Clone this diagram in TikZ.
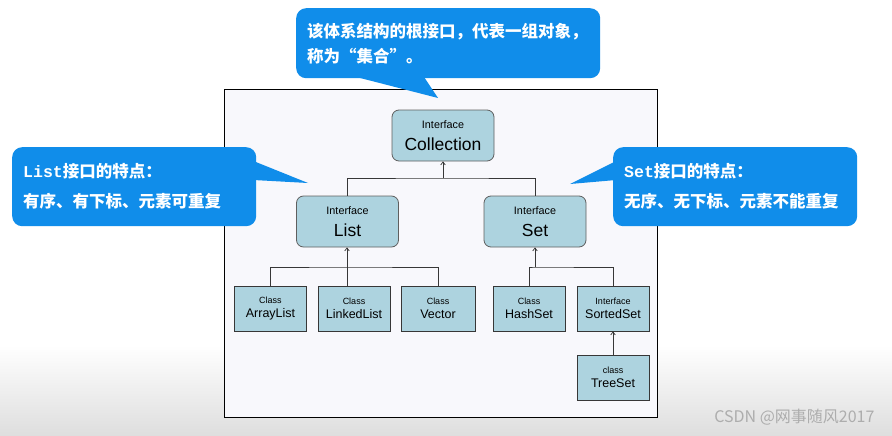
\documentclass[tikz,border=0pt]{standalone}
\usepackage{fontspec}
\setmainfont{Liberation Sans}
\newfontfamily\cjkfont{Noto Sans CJK SC}
\newfontfamily\monofont{Liberation Mono}
\usetikzlibrary{arrows.meta, positioning}

\definecolor{boxblue}{RGB}{173,211,223}
\definecolor{tipblue}{RGB}{16,141,234}
\definecolor{lineg}{RGB}{55,55,55}
\definecolor{paper}{RGB}{248,248,252}

\newcommand{\ifacetext}[2]{{\fontsize{10.8}{12}\selectfont #1}\\[3pt]{\fontsize{17.5}{19}\selectfont #2}}
\newcommand{\clstext}[2]{{\fontsize{9}{11}\selectfont #1}\\[1pt]{\fontsize{12.5}{14}\selectfont #2}}

\tikzset{
  iface/.style={draw=lineg!80, fill=boxblue, rounded corners=7pt, minimum width=102pt, minimum height=51pt, align=center, line width=0.8pt,
    font=\fontsize{10.8}{19}\selectfont},
  cls/.style={draw=lineg, fill=boxblue, minimum width=72pt, minimum height=45pt, align=center, line width=0.8pt,
    font=\fontsize{9}{13.5}\selectfont},
  link/.style={draw=lineg, line width=0.7pt},
  arr/.style={link, -{Straight Barb[length=3pt,width=4.5pt]}},
  bubble/.style={fill=tipblue, rounded corners=10pt, text=white, align=left, inner xsep=11pt,
    font=\cjkfont\bfseries\fontsize{16.5}{25}\selectfont},
}

\begin{document}
\begin{tikzpicture}[x=1pt, y=-1pt]
        \useasboundingbox (0,0) rectangle (892,436);
        % screen background
        \fill[white] (0,0) rectangle (892,436);
        \shade[top color=white, bottom color=black!13] (0,345) rectangle (892,436);
        \draw[line width=1pt, fill=paper] (224.5,90) rectangle (657,417);

        % interfaces
        \node[iface] (coll) at (443,135.5) {\ifacetext{Interface}{Collection}};
        \node[iface] (list) at (347.5,221.5) {\ifacetext{Interface}{List}};
        \node[iface] (set) at (535,221.5) {\ifacetext{Interface}{Set}};

        % classes
        \node[cls] (arraylist) at (270.5,308.5) {\clstext{Class}{ArrayList}};
        \node[cls] (linkedlist) at (354,308.5) {\clstext{Class}{LinkedList}};
        \node[cls, minimum width=74pt] (vector) at (438,308.5) {\clstext{Class}{Vector}};
        \node[cls] (hashset) at (529,308.5) {\clstext{Class}{HashSet}};
        \node[cls] (sortedset) at (613,308.5) {\clstext{Interface}{SortedSet}};
        \node[cls] (treeset) at (613,377.5) {\clstext{class}{TreeSet}};

        % connectors
        \coordinate (jtop) at (443,178);
        \coordinate (jlist) at (347,267);
        \coordinate (jset) at (535,267);
        \draw[link] (list.north -| jlist) |- (jtop) -| (set.north);
        \draw[arr] (jtop) -- (coll.south);
        \draw[link] (arraylist.north) |- (jlist) -| (vector.north);
        \draw[arr] (jlist |- linkedlist.north) -- (jlist |- list.south);
        \draw[link] (hashset.north) |- (jset) -| (sortedset.north);
        \draw[arr] (jset) -- (set.south);
        \draw[arr] (treeset.north) -- (sortedset.south);

        % callouts
        \node[bubble, anchor=north west, text width=282pt, minimum height=70pt] (tiproot) at (296,8)
            {该体系结构的根接口，代表一组对象，\\称为“集合”。};
        \coordinate (ptroot) at (438,98);
        \fill[tipblue] ([xshift=54pt,yshift=3pt]tiproot.south west) -- (ptroot) -- ([xshift=127pt,yshift=3pt]tiproot.south west) -- cycle;

        \node[bubble, anchor=north west, text width=222pt, minimum height=79pt,
            font=\cjkfont\bfseries\fontsize{16.5}{30}\selectfont] (tiplist) at (12,147)
            {{\monofont List}接口的特点：\\有序、有下标、元素可重复};
        \coordinate (ptlist) at (308,183);
        \fill[tipblue] ([xshift=-3pt,yshift=-14pt]tiplist.north east) -- (ptlist) -- ([xshift=-3pt,yshift=-33pt]tiplist.north east) -- cycle;

        \node[bubble, anchor=north west, text width=222pt, minimum height=79pt,
            font=\cjkfont\bfseries\fontsize{16.5}{30}\selectfont] (tipset) at (613,147)
            {{\monofont Set}接口的特点：\\无序、无下标、元素不能重复};
        \coordinate (ptset) at (570,184);
        \fill[tipblue] ([xshift=3pt,yshift=-14pt]tipset.north west) -- (ptset) -- ([xshift=3pt,yshift=-33pt]tipset.north west) -- cycle;

        % watermark
        \node[text=black!32, font=\cjkfont\fontsize{16}{18}\selectfont, anchor=east] (mark) at (878,417) {CSDN @网事随风2017};
    \end{tikzpicture}
\end{document}
